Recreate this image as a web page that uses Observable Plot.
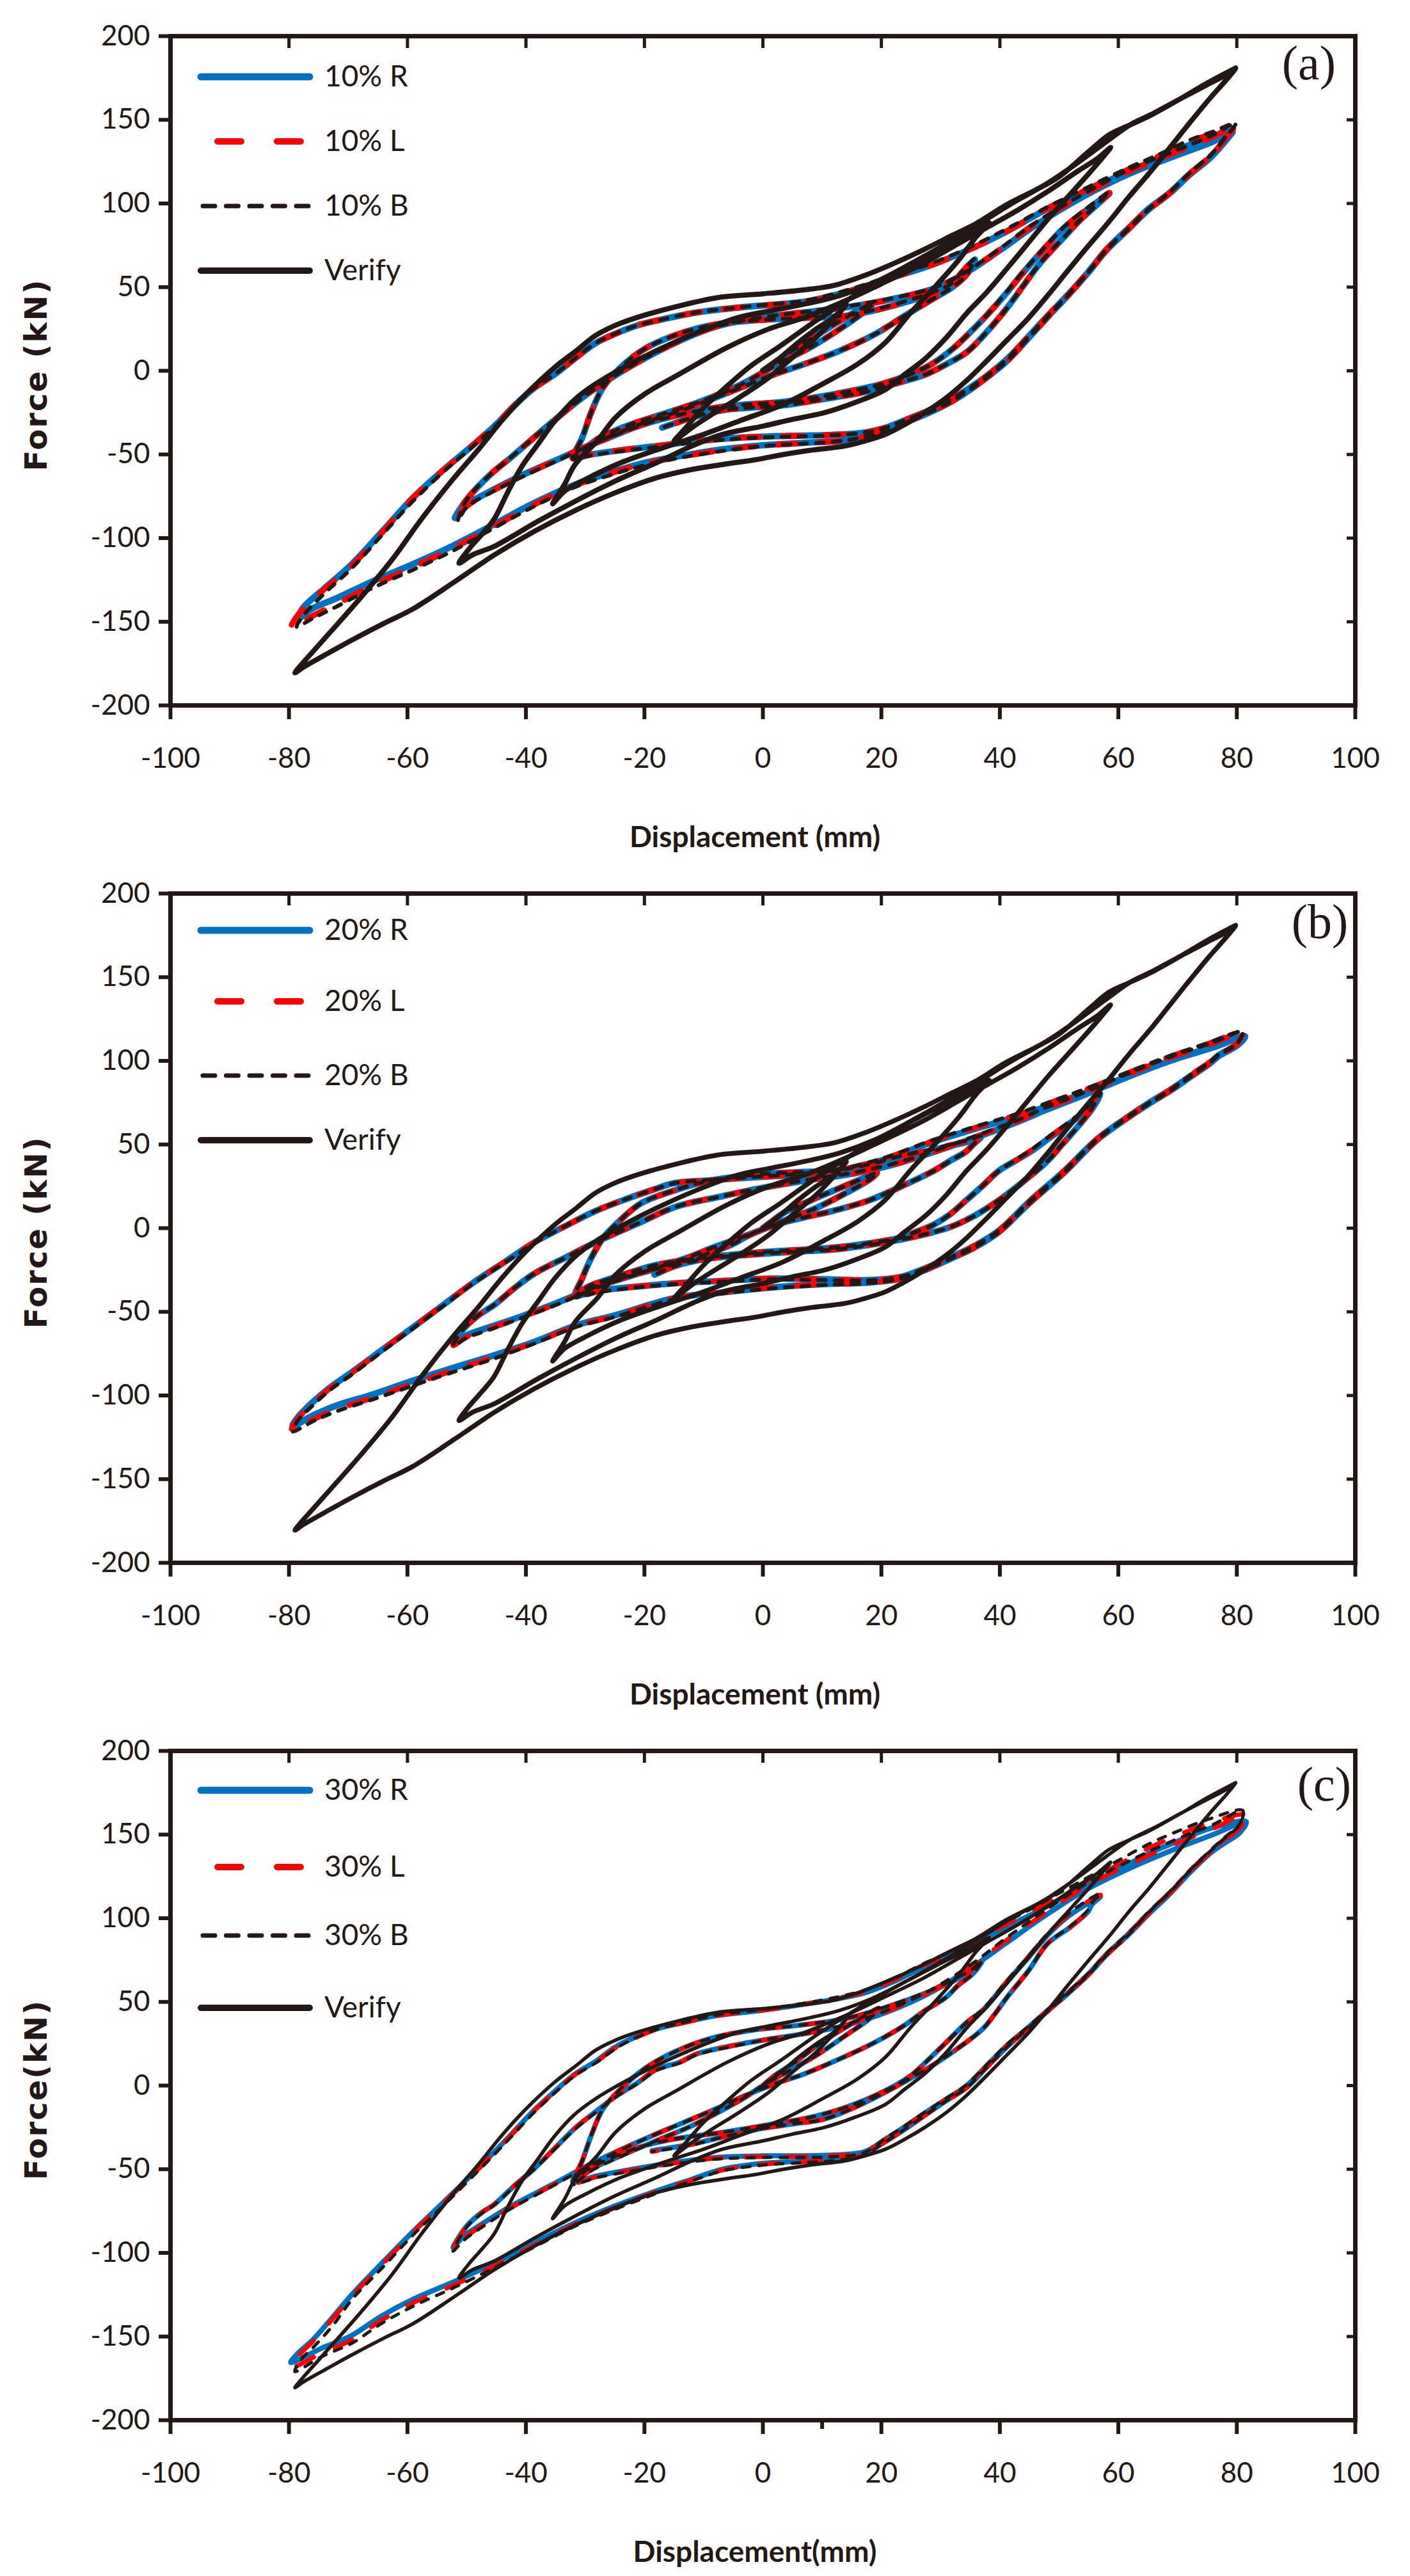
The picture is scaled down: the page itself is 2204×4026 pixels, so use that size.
<!DOCTYPE html>
<html><head><meta charset="utf-8">
<script src="https://cdn.jsdelivr.net/npm/d3@7"></script>
<script src="https://cdn.jsdelivr.net/npm/@observablehq/plot@0.6"></script>
<style>
html,body{margin:0;padding:0;background:#fff;}
#root{width:2204px;}
.panel{position:relative;width:2204px;height:1340px;}
.panel > svg{position:absolute;left:0;top:0;}
</style>
</head><body><div id="root"></div>
<script>
const xTicks = [-100,-80,-60,-40,-20,0,20,40,60,80,100];
const yTicks = [-200,-150,-100,-50,0,50,100,150,200];
const minorTicksC = [10];
const panelTags = ["(a)","(b)","(c)"];
const legendA = ["10% R","10% L","10% B","Verify"];
const legendB = ["20% R","20% L","20% B","Verify"];
const legendC = ["30% R","30% L","30% B","Verify"];
const yTitles = ["Force (kN)","Force (kN)","Force(kN)"];
const xTitles = ["Displacement (mm)","Displacement (mm)","Displacement(mm)"];

// Verify curve (same reference test in all three panels)
const verify = [
[0,0],[3,8],[6,17],[9,25],[12,32],[14.1,39.7],
[12,31],[9,20],[5,8],[1,-4],[-4,-16],[-9,-27],[-12,-34],[-15,-42],
[-13,-34],[-10,-22],[-6,-9],[-2,3],[3,15],[9,30],[16,46],[23,60],[30,73],[35,82],[38.2,88.5],
[36,80],[33,66],[29,50],[25,35],[20.7,17],[16,4],[10,-8],[3.5,-20],[-4,-30],[-10,-38],[-16,-45],[-24,-55],[-30,-65],[-33.5,-72],[-35.5,-79.5],
[-33.5,-68],[-31.7,-56],[-28,-42],[-24.9,-28],[-20,-14],[-14.6,-3],[-6,14],[1,25],[7.2,32],[14,42],[20,52],[27,64],[33,76],[38,86],[43,96],[48,107],[53,119],[56.5,127],[58.7,133.5],
[57,126],[54.9,117.4],[51.5,104],[48.1,90.6],[44.7,76],[41.2,61.1],[37.8,47],[34.4,34.4],[31,20],[27.5,7.6],[24,-2],[20.7,-11.2],[15.5,-19],[10.4,-25],[5,-29],[0.1,-33],[-6.8,-38],[-12,-45],[-18,-55],[-25,-66],[-31.7,-78],[-38,-90],[-45.4,-105],[-49,-110],[-51.3,-115],
[-49.5,-106],[-48,-100],[-45.4,-88.8],[-43,-72],[-40.6,-56.7],[-38,-44],[-35.1,-29.9],[-31.7,-17],[-28.3,-8],[-23,3],[-18,12],[-11,23],[-4.3,31.7],[1.5,36],[7.2,40],[13,45],[19,53],[25,64],[31,76],[37,89],[42,100],[48,112],[53,124],[58,137],[62,147],[66,154],[70.7,163],[75,171],[78,176.5],[79.8,181],
[78.5,175],[75.5,163],[72,148],[68.7,133.4],[65.2,118],[61.8,104],[58.4,89],[54.9,74.5],[51.5,60],[48.1,45.1],[44.7,31],[41.2,18.3],[37.8,6],[34.4,-5.8],[31,-16],[27.5,-24.6],[24,-32],[20.7,-38],[17.2,-42],[13.8,-45],[8,-47.5],[3.5,-50],[-1,-53],[-6.8,-56],[-12,-59],[-18,-64],[-25,-73],[-31.7,-83.5],[-38.6,-96],[-45.4,-110.2],[-52,-126],[-59.1,-142.4],[-64,-151],[-69.4,-161],[-74,-170],[-77.5,-177],[-79,-180.5],
[-78,-176],[-76,-168],[-72.9,-155.7],[-68,-136],[-62.6,-112.9],[-57.5,-88],[-52.3,-64.7],[-48,-47],[-44.1,-29.9],[-40,-14],[-35.1,2.2],[-31.5,12],[-28.3,21],[-25,27],[-21.4,31.7],[-15,38],[-7.7,43.7],[0,46],[7.2,48.5],[12,51],[17.2,57],[22,64],[27.5,73],[32,81],[36,88],[41,99],[46,108],[50,116],[55,131],[58.4,141],[62,147],[65.2,152.2],[70.7,163],[75,172],[79.8,181]
];

// ---------- Panel (a) 10% ----------
const aR = [
[0,0],[2,5],[4.5,11],[9,21],[14,32],[18.6,40.5],
[17,35],[13,25],[8,14],[3,5],[0,-1],[-3,-7],[-6,-12],[-11,-19],[-17,-26],[-23,-33],[-28,-41],[-32.1,-52.2],
[-30.5,-40],[-29,-25],[-27,-10],[-24,2],[-20,13],[-15,21],[-9,27],[-2,30],[6,31.5],[14.3,33],[21,38],[28.7,46.4],[32,52],[33.5,58.3],[35.8,66.5],
[34.5,58],[32,50],[28.7,43],[24,33],[19,22],[13,12],[7,4],[2,-2],[-3,-9],[-8,-16],[-14,-24],[-20,-31],[-27,-41],[-34,-52],[-41,-63],[-46,-72],[-50,-80],[-52,-88],
[-50,-77],[-46,-62],[-42.6,-52],[-39,-41],[-35.7,-31],[-28.9,-12],[-18.6,10],[-8.3,26],[0,32],[7.2,35],[15,38.5],[22,43],[28.7,49],[34,58],[40,72],[46,87],[54,104],[62,118],[70,129],[76,137],[79.3,143],
[78,137],[75.5,127.2],[72,117],[68.7,106.1],[65,96],[61.8,85],[58,72],[54.9,58.6],[51.5,45],[48.1,32.2],[44.7,19],[41.2,5.8],[37.8,-4],[34.4,-12.7],[31,-20],[27.5,-25.9],[24,-31],[20.7,-36.4],[17,-39.5],[13.8,-41.7],[7,-43],[0,-44.5],[-7,-47],[-14,-51],[-20,-55],[-25,-60],[-31.7,-68],[-38.6,-79],[-45.4,-91.8],[-52,-104],[-59.1,-115.6],[-66,-126],[-72,-136],[-76,-142],[-78.4,-148],
[-77.7,-142],[-74,-130],[-69.4,-115.6],[-64,-95],[-59.1,-76],[-53.5,-58],[-48.9,-44.3],[-45,-32],[-42,-21],[-38.5,-10],[-35.1,-2],[-31.5,8],[-28.3,16.4],[-25,22],[-21.4,26.9],[-16,31.5],[-11.1,34.9],[-5,37.5],[-0.85,38.8],[7.2,41.4],[14,47],[20.7,54.6],[27.5,62],[34.4,71.8],[41,83],[48.1,96.9],[55,108],[61.8,119.3],[67,127],[72.1,135.1],[76,139.5],[79.3,143],
[78,137.5],[75.5,127.5],[72,117.5],[68.7,106.5],[65,96.5],[61.8,85.5],[58,72.5],[54.9,59],[51.5,45.5],[48.1,33],[44.7,20],[41.2,7],[37.8,-3],[34.4,-11.5],[31,-18.5],[27.5,-24.5],[24,-29.5],[20.7,-34],[17,-37],[10,-38.5],[3,-39],[-4,-40],[-11,-42],[-18,-45],[-24,-47.5],[-29,-50],[-32.1,-52.2],
[-30,-46],[-26,-40],[-21,-33],[-15,-27],[-6.8,-21.5],[3.5,-18.5],[12,-14],[20,-8],[25,-2],[28.5,4],[32,13],[35,23],[38,34],[41,46],[44,59],[47.5,73],[51,86],[55,97],[58.5,106],
[56,98],[53.5,90],[51.5,82.4],[49,73],[46.7,63.9],[44,51],[41.2,37.5],[38,24],[34.4,11.1],[31,4],[27.5,-2.1],[22,-8],[17.2,-12.7],[10,-17],[3.5,-20.6],[-2,-22],[-6.8,-23.5],[-12,-28],[-17,-34]
];
const aL = [
[0,0],[2,5],[4.5,11],[9,21],[14,32],[18.6,40.5],
[17,35],[13,25],[8,14],[3,5],[0,-1],[-3,-7],[-6,-12],[-11,-19],[-17,-26],[-23,-33],[-28,-41],[-32.1,-52.5],
[-30.5,-40],[-29,-25],[-27,-10],[-24,2],[-20,13],[-15,21],[-9,27],[-2,30],[6,31.5],[14.3,33],[21,38],[28.7,46.4],[32,52],[33.5,58.5],[35.8,67],
[34.5,58],[32,50],[28.7,43],[24,33],[19,22],[13,12],[7,4],[2,-2],[-3,-9],[-8,-16],[-14,-24],[-20,-31],[-27,-41],[-34,-52],[-41,-63.5],[-46,-72.5],[-50,-81],[-52,-88.5],
[-50,-77],[-46,-62],[-42.6,-52],[-39,-41],[-35.7,-31],[-28.9,-12],[-18.6,10],[-8.3,26],[0,32],[7.2,35],[15,38.5],[22,43],[28.7,49],[34,58],[40,72.5],[46,88],[54,105],[62,119.5],[70,131],[76,140],[79.5,146],
[78,138.5],[75.5,128],[72,117.5],[68.7,106.1],[65,96],[61.8,85],[58,72],[54.9,58.6],[51.5,45],[48.1,32.2],[44.7,19],[41.2,5.8],[37.8,-4],[34.4,-12.7],[31,-20],[27.5,-25.9],[24,-31],[20.7,-36.4],[17,-39.5],[13.8,-41.7],[7,-43.2],[0,-44.8],[-7,-47.5],[-14,-51.5],[-20,-55.5],[-25,-60.5],[-31.7,-68.5],[-38.6,-80],[-45.4,-93],[-52,-105.5],[-59.1,-117.5],[-66,-128.5],[-72,-139.5],[-76,-146.5],[-79.7,-154],
[-78.5,-146],[-74.5,-132],[-69.4,-116.5],[-64,-95.5],[-59.1,-76],[-53.5,-58],[-48.9,-44.3],[-45,-32],[-42,-21],[-38.5,-10],[-35.1,-2],[-31.5,8],[-28.3,16.4],[-25,22],[-21.4,26.9],[-16,31.5],[-11.1,34.9],[-5,37.5],[-0.85,38.8],[7.2,41.4],[14,47],[20.7,54.6],[27.5,62],[34.4,71.8],[41,83],[48.1,97.2],[55,108.8],[61.8,120.5],[67,128.5],[72.1,137],[76,141.8],[79.5,146],
[78,138.8],[75.5,128.2],[72,117.8],[68.7,106.5],[65,96.5],[61.8,85.5],[58,72.5],[54.9,59],[51.5,45.5],[48.1,33],[44.7,20],[41.2,7],[37.8,-3],[34.4,-11.5],[31,-18.5],[27.5,-24.5],[24,-29.5],[20.7,-34],[17,-37],[10,-38.5],[3,-39],[-4,-40],[-11,-42],[-18,-45],[-24,-47.5],[-29,-50],[-32.1,-52.5],
[-30,-46],[-26,-40],[-21,-33],[-15,-27],[-6.8,-21.5],[3.5,-18.5],[12,-14],[20,-8],[25,-2],[28.5,4],[32,13],[35,23],[38,34],[41,46],[44,59],[47.5,73],[51,86],[55,97.5],[58.5,106.5],
[56,98],[53.5,90],[51.5,82.4],[49,73],[46.7,63.9],[44,51],[41.2,37.5],[38,24],[34.4,11.1],[31,4],[27.5,-2.1],[22,-8],[17.2,-12.7],[10,-17],[3.5,-20.6],[-2,-22],[-6.8,-23.5],[-12,-28],[-17,-34.5]
];
const aB = [
[0,0],[2,5],[4.5,11],[9,21],[14,32],[18.6,40.5],
[17,35],[13,25],[8,14],[3,5],[0,-1],[-3,-7],[-6,-12],[-11,-19],[-17,-26],[-23,-33],[-28,-41],[-32.1,-52.5],
[-30.5,-40],[-29,-25],[-27,-10],[-24,2],[-20,13],[-15,21],[-9,27],[-2,30],[6,31.5],[14.3,33.2],[21,38.5],[28.7,47],[32,52.5],[33.5,58.8],[35.8,67],
[34.5,58],[32,50],[28.7,43],[24,33],[19,22],[13,12],[7,4],[2,-2],[-3,-9],[-8,-16],[-14,-24],[-20,-31],[-27,-41],[-34,-52.5],[-41,-64],[-46,-73],[-50,-81.5],[-51.5,-90],
[-50,-77],[-46,-62],[-42.6,-52],[-39,-41],[-35.7,-31],[-28.9,-12],[-18.6,10],[-8.3,26],[0,32],[7.2,35.2],[15,39],[22,43.5],[28.7,49.5],[34,58.5],[40,73],[46,88.5],[54,105.5],[62,120.5],[70,132],[76,141],[79.8,148],
[78,139],[75.5,128.5],[72,118],[68.7,106.5],[65,96],[61.8,85],[58,72],[54.9,58.6],[51.5,45],[48.1,32.2],[44.7,19],[41.2,5.8],[37.8,-4],[34.4,-12.7],[31,-20],[27.5,-25.9],[24,-31],[20.7,-36.4],[17,-39.5],[13.8,-41.7],[7,-43.5],[0,-45],[-7,-48],[-14,-52],[-20,-56.5],[-25,-61.5],[-31.7,-69.5],[-38.6,-81],[-45.4,-94],[-52,-107],[-59.1,-119],[-66,-130],[-72,-141],[-76,-148],[-78.7,-153],
[-77.5,-146],[-74,-133],[-69.4,-118],[-64,-97],[-59.1,-78],[-53.5,-59],[-48.9,-45],[-45,-32.5],[-42,-21.5],[-38.5,-10],[-35.1,-2],[-31.5,8],[-28.3,16.4],[-25,22],[-21.4,26.9],[-16,31.5],[-11.1,34.9],[-5,37.5],[-0.85,39],[7.2,42],[14,48],[20.7,55.5],[27.5,63],[34.4,73],[41,84.5],[48.1,98],[55,110],[61.8,121.5],[67,129.5],[72.1,138],[76,143],[79.8,148],
[78,139.5],[75.5,128.8],[72,118.2],[68.7,106.8],[65,96.5],[61.8,85.5],[58,72.5],[54.9,59],[51.5,45.5],[48.1,33],[44.7,20],[41.2,7],[37.8,-3],[34.4,-11.5],[31,-18.5],[27.5,-24.5],[24,-29.5],[20.7,-34],[17,-37],[10,-38.8],[3,-39.5],[-4,-40.5],[-11,-42.5],[-18,-45.5],[-24,-48],[-29,-50.5],[-32.1,-52.5],
[-30,-46],[-26,-40],[-21,-33],[-15,-27],[-6.8,-21.5],[3.5,-18.5],[12,-14],[20,-8],[25,-2],[28.5,4],[32,13],[35,23],[38,34],[41,46.5],[44,59.5],[47.5,73.5],[51,86.5],[55,98],[58.5,107],
[56,98],[53.5,90],[51.5,82.4],[49,73],[46.7,63.9],[44,51],[41.2,37.5],[38,24],[34.4,11.1],[31,4],[27.5,-2.1],[22,-8],[17.2,-12.7],[10,-17],[3.5,-20.6],[-2,-22],[-6.8,-23.5],[-12,-28],[-17,-34]
];

// ---------- Panel (b) 20% ----------
const bR = [
[0,0],[1.5,4],[3.6,9.3],[8,16.5],[13,24],[17.9,31.2],[19.3,33],
[18,29],[14,21],[9,12],[4,5],[0.5,0],[-2.5,-4.5],[-5.2,-9.7],[-10,-16],[-15,-21.4],[-22,-28],[-28,-34],[-31.7,-40.6],
[-30.5,-30],[-29,-18],[-27,-6],[-24,5],[-20.5,15],[-15,22.5],[-9.6,28],[-4,31],[1.4,32.7],[6,33.5],[12.4,34.5],[18,38],[23.4,43],[28,46],[32,49.5],[35,52],[36.8,54.4],
[35.5,50],[34.3,45.8],[31.5,40],[28.8,34.2],[24,26],[17.9,16.6],[12,10.5],[6.9,6.4],[3,3],[-1,-2],[-4,-6],[-8,-11],[-13,-18],[-20,-26],[-28,-35],[-35,-45],[-41,-53],[-46,-59],[-50,-64],[-52.3,-68.7],
[-50.5,-60],[-48,-52],[-45.4,-46],[-42,-36],[-38.6,-27.2],[-33,-17],[-28.3,-8.5],[-21,3],[-14.6,12.9],[-7,19],[-0.85,23.6],[7.2,28.5],[15,32.5],[22,38],[28.8,45.5],[35,53],[42.6,63],[48,71],[54.5,80],[62,91],[70,101.5],[76,108],[81.4,114.7],
[80,109],[77,103],[75.5,98.6],[72,90],[68.7,82],[65,74],[61.8,66.5],[56.5,53],[50.8,33],[45,15],[39.8,-2.4],[35.5,-12],[31.6,-18.4],[27,-25.5],[23.4,-30.1],[17.9,-32.5],[10,-33.5],[1.4,-35.5],[-7,-38.5],[-15,-41.8],[-24.9,-52],[-31.5,-58],[-38.6,-68],[-45.4,-76],[-52.3,-83.5],[-59,-91],[-66,-99.5],[-72,-106],[-76,-112],[-79.4,-118.3],
[-78.5,-113],[-76,-104],[-73,-95],[-69.4,-86.1],[-64,-72],[-59.1,-59.4],[-54,-46],[-48.9,-32.6],[-43.5,-20],[-38.6,-8.5],[-33.5,1],[-28.3,10.2],[-23,17.5],[-18,23.6],[-15,26.9],[-9,28.6],[-4.1,29.8],[1.5,31],[7.2,32.2],[12.4,34.2],[20,40.5],[28.8,51.7],[35,58.5],[42.6,66.3],[48.5,73.5],[54.5,80.9],[61.8,91],[68.7,100],[75,107.5],[81.4,114.7],
[80,109.5],[77,103.5],[75.5,99],[72,90.5],[68.7,82.5],[65,74.5],[61.8,67],[56.5,53.5],[50.8,34],[45,16],[39.8,-1.5],[35.5,-11],[31.6,-17.5],[27,-24.5],[23.4,-29],[17.9,-31],[10,-30.5],[1.4,-30.1],[-7,-31.5],[-15,-33],[-23,-35.5],[-28,-37.5],[-31.7,-40.6],
[-29.5,-35],[-26,-30.5],[-22,-26],[-18,-22],[-9.6,-17.5],[-0.8,-14.5],[6,-13],[12.4,-11.5],[18,-9],[23.4,-5.5],[26,-2],[28.8,2],[31.5,8],[34.3,16.6],[37,25],[39.8,34.2],[42.5,40],[45.3,46],[48,53],[51.5,62],[54.5,70],[57,80],
[55.5,71],[53,60],[50.5,50],[48,40],[44,28],[39.8,16.6],[35.5,7],[31.6,0.6],[27.5,-3.5],[23.4,-6.7],[18,-10],[12.4,-12.6],[6,-14],[-0.8,-15.5],[-9.6,-18.4],[-15,-22.8],[-18.3,-27.8]
];
const bL = [
[0,0],[1.5,4],[3.6,9.3],[8,16.5],[13,24],[17.9,31.2],[19.3,33.3],
[18,29],[14,21],[9,12],[4,5],[0.5,0],[-2.5,-4.5],[-5.2,-9.7],[-10,-16],[-15,-21.4],[-22,-28],[-28,-34.5],[-31.7,-41.5],
[-30.5,-30],[-29,-18],[-27,-6],[-24,5],[-20.5,15],[-15,22.5],[-9.6,28],[-4,31],[1.4,32.7],[6,33.5],[12.4,34.5],[18,38],[23.4,43],[28,46.5],[32,50],[35,52.5],[36.8,55],
[35.5,50],[34.3,45.8],[31.5,40],[28.8,34.2],[24,26],[17.9,16.6],[12,10.5],[6.9,6.4],[3,3],[-1,-2],[-4,-6],[-8,-11],[-13,-18],[-20,-26],[-28,-35],[-35,-45.5],[-41,-53.5],[-46,-60],[-50,-65],[-52.3,-70],
[-50.5,-60],[-48,-52],[-45.4,-46],[-42,-36],[-38.6,-27.2],[-33,-17],[-28.3,-8.5],[-21,3],[-14.6,12.9],[-7,19],[-0.85,23.6],[7.2,28.5],[15,32.5],[22,38],[28.8,45.5],[35,53.5],[42.6,63.5],[48,72],[54.5,81],[62,92.5],[70,103.5],[76,110.5],[81,117.3],
[80,110],[77,103.5],[75.5,99],[72,90],[68.7,82],[65,74],[61.8,66.5],[56.5,53],[50.8,33],[45,15],[39.8,-2.4],[35.5,-12],[31.6,-18.4],[27,-25.5],[23.4,-30.1],[17.9,-32.5],[10,-33.5],[1.4,-35.5],[-7,-38.5],[-15,-42],[-24.9,-52.5],[-31.5,-58.5],[-38.6,-68.5],[-45.4,-77],[-52.3,-85],[-59,-93],[-66,-101.5],[-72,-108.5],[-76,-114.5],[-79.6,-121],
[-78.5,-114],[-76,-105],[-73,-95.5],[-69.4,-86.5],[-64,-72],[-59.1,-59.4],[-54,-46],[-48.9,-32.6],[-43.5,-20],[-38.6,-8.5],[-33.5,1],[-28.3,10.2],[-23,17.5],[-18,23.6],[-15,26.9],[-9,28.6],[-4.1,29.8],[1.5,31],[7.2,32.2],[12.4,34.4],[20,41],[28.8,52.2],[35,59.2],[42.6,67.3],[48.5,75],[54.5,82.8],[61.8,93],[68.7,102.5],[75,110],[81,117.3],
[80,110.5],[77,104],[75.5,99.5],[72,91],[68.7,82.5],[65,74.5],[61.8,67],[56.5,53.5],[50.8,34],[45,16],[39.8,-1.5],[35.5,-11],[31.6,-17.5],[27,-24.5],[23.4,-29],[17.9,-31],[10,-30.5],[1.4,-30.1],[-7,-31.5],[-15,-33],[-23,-35.5],[-28,-38],[-31.7,-41.5],
[-29.5,-35],[-26,-30.5],[-22,-26],[-18,-22],[-9.6,-17.5],[-0.8,-14.5],[6,-13],[12.4,-11.5],[18,-9],[23.4,-5.5],[26,-2],[28.8,2],[31.5,8],[34.3,16.6],[37,25],[39.8,34.2],[42.5,40],[45.3,46.5],[48,53.5],[51.5,62.5],[54.5,71],[57,81],
[55.5,71.5],[53,60],[50.5,50],[48,40],[44,28],[39.8,16.6],[35.5,7],[31.6,0.6],[27.5,-3.5],[23.4,-6.7],[18,-10],[12.4,-12.6],[6,-14],[-0.8,-15.5],[-9.6,-18.4],[-15,-22.8],[-18.3,-28.2]
];
const bB = [
[0,0],[1.5,4],[3.6,9.3],[8,16.5],[13,24],[17.9,31.2],[19.3,33.2],
[18,29],[14,21],[9,12],[4,5],[0.5,0],[-2.5,-4.5],[-5.2,-9.7],[-10,-16],[-15,-21.4],[-22,-28],[-28,-34.5],[-31.7,-41.2],
[-30.5,-30],[-29,-18],[-27,-6],[-24,5],[-20.5,15],[-15,22.5],[-9.6,28],[-4,31],[1.4,32.7],[6,33.5],[12.4,34.6],[18,38.2],[23.4,43.3],[28,46.8],[32,50.3],[35,53],[36.8,55.2],
[35.5,50],[34.3,45.8],[31.5,40],[28.8,34.2],[24,26],[17.9,16.6],[12,10.5],[6.9,6.4],[3,3],[-1,-2],[-4,-6],[-8,-11],[-13,-18],[-20,-26],[-28,-35.5],[-35,-46],[-41,-54],[-46,-60.5],[-50,-65.5],[-52.3,-70.5],
[-50.5,-60],[-48,-52],[-45.4,-46],[-42,-36],[-38.6,-27.2],[-33,-17],[-28.3,-8.5],[-21,3],[-14.6,12.9],[-7,19],[-0.85,23.6],[7.2,28.7],[15,33],[22,38.5],[28.8,46],[35,54],[42.6,64],[48,72.5],[54.5,81.5],[62,93],[70,104],[76,111],[81,117.5],
[80,110],[77,103.5],[75.5,99],[72,90],[68.7,82],[65,74],[61.8,66.5],[56.5,53],[50.8,33],[45,15],[39.8,-2.4],[35.5,-12],[31.6,-18.4],[27,-25.5],[23.4,-30.1],[17.9,-32.8],[10,-34],[1.4,-36],[-7,-39],[-15,-42.5],[-24.9,-53],[-31.5,-59],[-38.6,-69],[-45.4,-78],[-52.3,-86],[-59,-94],[-66,-102.5],[-72,-109.5],[-76,-115.5],[-79.4,-121.5],
[-78.5,-115],[-76,-106],[-73,-96.5],[-69.4,-87.5],[-64,-73],[-59.1,-60],[-54,-46.5],[-48.9,-33],[-43.5,-20.5],[-38.6,-9],[-33.5,1],[-28.3,10.2],[-23,17.5],[-18,23.6],[-15,26.9],[-9,28.8],[-4.1,30],[1.5,31.3],[7.2,32.6],[12.4,34.8],[20,41.5],[28.8,52.8],[35,59.8],[42.6,68],[48.5,75.5],[54.5,83.3],[61.8,93.5],[68.7,103],[75,110.5],[81,117.5],
[80,110.5],[77,104],[75.5,99.5],[72,91],[68.7,82.5],[65,74.5],[61.8,67],[56.5,53.5],[50.8,34],[45,16],[39.8,-1.5],[35.5,-11],[31.6,-17.5],[27,-24.5],[23.4,-29],[17.9,-31.2],[10,-31],[1.4,-30.6],[-7,-32],[-15,-33.5],[-23,-36],[-28,-38.5],[-31.7,-41.2],
[-29.5,-35],[-26,-30.5],[-22,-26],[-18,-22],[-9.6,-17.5],[-0.8,-14.5],[6,-13],[12.4,-11.5],[18,-9],[23.4,-5.5],[26,-2],[28.8,2],[31.5,8],[34.3,16.6],[37,25],[39.8,34.2],[42.5,40.3],[45.3,46.8],[48,54],[51.5,63],[54.5,71.5],[57,81],
[55.5,71.5],[53,60],[50.5,50],[48,40],[44,28],[39.8,16.6],[35.5,7],[31.6,0.6],[27.5,-3.5],[23.4,-6.7],[18,-10],[12.4,-12.6],[6,-14],[-0.8,-15.5],[-9.6,-18.4],[-15,-22.8],[-18.3,-28]
];

// ---------- Panel (c) 30% ----------
const cR = [
[0,0],[2,6],[5,13],[10,26],[15,37],[19.6,46],
[18,40],[14,30],[9,18],[4,8],[0,0],[-3,-7],[-7,-15],[-12,-24],[-18,-33],[-24,-42],[-29,-50],[-32.1,-57.8],
[-30.5,-45],[-29,-30],[-27,-14],[-24,-2],[-20,10],[-15,20],[-9,28],[-2,33],[6,36],[14,40],[21,47],[28,56],[33,64],[35.5,69],[37,74.2],
[35.5,67],[33,60],[30.9,52.7],[27,44],[24.1,36.5],[19,26],[13,16],[7,7],[2,1],[-3,-6],[-8,-14],[-14,-23],[-20,-32],[-28,-45],[-36,-60],[-43,-73],[-48,-84],[-50.5,-90],[-52.3,-96.8],
[-50,-84],[-47.5,-76],[-45.4,-71.2],[-42,-60],[-38.6,-49.7],[-35,-37],[-31.7,-25.4],[-28,-15],[-24.9,-6.6],[-21,2],[-18,9.6],[-14,14],[-11.1,19],[-4.3,24.4],[1.5,28],[7.2,31.1],[14,36],[21,44],[28,55],[35,70],[41,85],[47,100],[54,116],[62,130],[70,142],[76,150],[81.6,157.7],
[80.5,151],[78,145],[75.5,138.8],[72,127],[68.7,114.6],[65,102],[61.8,90.4],[58,78],[54.9,66.1],[51.5,55],[48.1,44.6],[44.7,34],[41.2,23.1],[37.8,11],[34.4,-1.2],[31,-9],[27.5,-17.4],[24,-26],[20.7,-33.5],[17.2,-40.5],[13,-43.5],[7.2,-45],[0.1,-46.5],[-6.8,-50],[-12,-56],[-18,-63],[-25,-72],[-31.7,-82],[-38.6,-94],[-45.4,-106.2],[-52,-117],[-59.1,-127.8],[-64.5,-138],[-69.4,-149.3],[-74.5,-157],[-79.7,-165.5],
[-78.5,-160],[-76,-152],[-73,-140],[-69.4,-125],[-64,-105],[-59.1,-87.4],[-54,-70],[-48.9,-52.4],[-43.5,-33],[-38.6,-14.7],[-35,-3],[-31.7,6.9],[-28,15],[-24.9,23.1],[-21.5,29],[-18,33.8],[-13,38],[-7.7,41.9],[0,45],[6.9,48.6],[12,51.5],[17.2,55.4],[22,62],[27.5,71.5],[34.4,82.3],[39.5,92],[44.7,101.1],[49.5,110],[54.9,120],[60,129],[65.2,138.8],[70,146],[75.5,153.7],[81.6,157.7],
[80.5,151.5],[78,145.5],[75.5,139.2],[72,127.5],[68.7,115],[65,102.5],[61.8,91],[58,78.5],[54.9,66.5],[51.5,55.5],[48.1,45],[44.7,34.5],[41.2,24],[37.8,12],[34.4,0],[31,-8],[27.5,-16],[24,-24.5],[20.7,-32],[17.2,-39.5],[12,-41.5],[5,-42],[0,-42],[-8,-43],[-15,-46],[-22,-50],[-28,-54],[-32.1,-57.8],
[-30,-51],[-26,-44],[-21,-37],[-15,-32],[-6.8,-28],[0.1,-24],[8,-19],[14,-13],[20.7,-3],[25,6],[27.5,14],[31,26],[34.5,38],[37.1,45],[41.2,62],[44.7,76],[48.1,90],[51.5,101],[54.9,109],[57,113],
[55.5,108],[54.9,104],[52,95],[48.1,85],[44.7,68],[41.2,52.7],[39,42],[37.1,33.8],[32,20],[27.5,9.6],[24,2.5],[20.7,-3.9],[15.5,-13],[10.4,-20],[5,-23],[0.1,-25.5],[-6.8,-30.8],[-12,-35],[-18.7,-38.9]
];
const cL = [
[0,0],[2,6],[5,13],[10,26],[15,37],[19.6,46.3],
[18,40],[14,30],[9,18],[4,8],[0,0],[-3,-7],[-7,-15],[-12,-24],[-18,-33],[-24,-42],[-29,-50.5],[-32.1,-58.5],
[-30.5,-45],[-29,-30],[-27,-14],[-24,-2],[-20,10],[-15,20],[-9,28],[-2,33],[6,36],[14,40],[21,47],[28,56],[33,64.3],[35.5,69.5],[37,74.6],
[35.5,67],[33,60],[30.9,52.7],[27,44],[24.1,36.5],[19,26],[13,16],[7,7],[2,1],[-3,-6],[-8,-14],[-14,-23],[-20,-32],[-28,-45],[-36,-60.5],[-43,-74],[-48,-85],[-50.5,-91.5],[-52.3,-98],
[-50,-84],[-47.5,-76],[-45.4,-71.2],[-42,-60],[-38.6,-49.7],[-35,-37],[-31.7,-25.4],[-28,-15],[-24.9,-6.6],[-21,2],[-18,9.6],[-14,14],[-11.1,19],[-4.3,24.4],[1.5,28],[7.2,31.1],[14,36.3],[21,44.5],[28,55.8],[35,71],[41,86.5],[47,101.5],[54,118],[62,132.5],[70,145],[76,153.5],[81.3,161.7],
[80.5,154],[78,147],[75.5,139.5],[72,127.5],[68.7,115],[65,102.5],[61.8,90.4],[58,78],[54.9,66.1],[51.5,55],[48.1,44.6],[44.7,34],[41.2,23.1],[37.8,11],[34.4,-1.2],[31,-9],[27.5,-17.4],[24,-26],[20.7,-33.5],[17.2,-41],[13,-44],[7.2,-45.5],[0.1,-47],[-6.8,-50.5],[-12,-56.5],[-18,-63.5],[-25,-73],[-31.7,-83],[-38.6,-95.5],[-45.4,-108],[-52,-119],[-59.1,-130],[-64.5,-140.5],[-69.4,-152],[-74.5,-160],[-79.7,-168.7],
[-78.5,-162],[-76,-153],[-73,-141],[-69.4,-126],[-64,-106],[-59.1,-88],[-54,-70.5],[-48.9,-53],[-43.5,-33.5],[-38.6,-15],[-35,-3.5],[-31.7,6.5],[-28,14.5],[-24.9,22.5],[-21.5,28.5],[-18,33.5],[-13,37.8],[-7.7,41.9],[0,45],[6.9,48.6],[12,51.8],[17.2,56],[22,63],[27.5,72.5],[34.4,83.5],[39.5,93.5],[44.7,103],[49.5,112],[54.9,122.5],[60,132],[65.2,142],[70,149.5],[75.5,157],[81.3,161.7],
[80.5,154.5],[78,147.5],[75.5,140],[72,128],[68.7,115.5],[65,103],[61.8,91],[58,78.5],[54.9,66.5],[51.5,55.5],[48.1,45],[44.7,34.5],[41.2,24],[37.8,12],[34.4,0],[31,-8],[27.5,-16],[24,-24.5],[20.7,-32],[17.2,-39.8],[12,-42],[5,-42.5],[0,-42.5],[-8,-43.5],[-15,-46.5],[-22,-50.5],[-28,-54.5],[-32.1,-58.5],
[-30,-51],[-26,-44],[-21,-37],[-15,-32],[-6.8,-28],[0.1,-24],[8,-19],[14,-13],[20.7,-3],[25,6],[27.5,14],[31,26],[34.5,38],[37.1,45],[41.2,62.3],[44.7,76.5],[48.1,90.5],[51.5,101.8],[54.9,110],[57,114],
[55.5,108.5],[54.9,104.5],[52,95],[48.1,85],[44.7,68],[41.2,52.7],[39,42],[37.1,33.8],[32,20],[27.5,9.6],[24,2.5],[20.7,-3.9],[15.5,-13],[10.4,-20],[5,-23],[0.1,-25.5],[-6.8,-30.8],[-12,-35.2],[-18.7,-39.5]
];
const cB = [
[0,0],[2,6],[5,13],[10,26],[15,37],[19.6,46.5],
[18,40],[14,30],[9,18],[4,8],[0,0],[-3,-7],[-7,-15],[-12,-24],[-18,-33],[-24,-42.5],[-29,-51],[-32.1,-59],
[-30.5,-45],[-29,-30],[-27,-14],[-24,-2],[-20,10],[-15,20],[-9,28],[-2,33],[6,36],[14,40.2],[21,47.4],[28,56.5],[33,64.8],[35.5,70],[37,75],
[35.5,67],[33,60],[30.9,52.7],[27,44],[24.1,36.5],[19,26],[13,16],[7,7],[2,1],[-3,-6],[-8,-14],[-14,-23],[-20,-32],[-28,-45.5],[-36,-61],[-43,-74.5],[-48,-86],[-50.5,-92.5],[-52.3,-99],
[-50,-84.5],[-47.5,-76.5],[-45.4,-71.5],[-42,-60.5],[-38.6,-50],[-35,-37.5],[-31.7,-26],[-28,-15.5],[-24.9,-7],[-21,1.5],[-18,9],[-14,13.5],[-11.1,18.5],[-4.3,24],[1.5,28],[7.2,31.1],[14,36.5],[21,45],[28,56.5],[35,72],[41,88],[47,103],[54,119.5],[62,134.5],[70,147.5],[76,156],[81,164.4],
[80.5,156],[78,148],[75.5,140],[72,128],[68.7,115.5],[65,103],[61.8,90.4],[58,78],[54.9,66.1],[51.5,55],[48.1,44.6],[44.7,34],[41.2,23.1],[37.8,11],[34.4,-1.2],[31,-9],[27.5,-17.4],[24,-26],[20.7,-33.5],[17.2,-41.5],[13,-44.5],[7.2,-46],[0.1,-47.5],[-6.8,-51],[-12,-57],[-18,-64.5],[-25,-74],[-31.7,-84],[-38.6,-96.5],[-45.4,-109],[-52,-120.5],[-59.1,-132],[-64.5,-142.5],[-69.4,-154],[-74.5,-162],[-79,-170.9],
[-78,-164],[-75.5,-155],[-72.5,-143],[-69.4,-128],[-64,-108],[-59.1,-89.5],[-54,-72],[-48.9,-54],[-43.5,-34.5],[-38.6,-16],[-35,-4],[-31.7,6],[-28,14],[-24.9,22],[-21.5,28.5],[-18,33.5],[-13,38],[-7.7,42.2],[0,45.5],[6.9,49.2],[12,52.5],[17.2,57],[22,64],[27.5,73.5],[34.4,84.5],[39.5,95],[44.7,104.5],[49.5,114],[54.9,124.5],[60,134.5],[65.2,144.5],[70,152],[75.5,159.5],[81,164.4],
[80.5,156.5],[78,148.5],[75.5,140.5],[72,128.5],[68.7,116],[65,103.5],[61.8,91.5],[58,79],[54.9,67],[51.5,56],[48.1,45.5],[44.7,35],[41.2,24.5],[37.8,12.5],[34.4,0.5],[31,-7.5],[27.5,-15.5],[24,-24],[20.7,-31.5],[17.2,-40],[12,-42.5],[5,-43],[0,-43],[-8,-44],[-15,-47],[-22,-51],[-28,-55],[-32.1,-59],
[-30,-51],[-26,-44],[-21,-37],[-15,-32],[-6.8,-28],[0.1,-24],[8,-19],[14,-13],[20.7,-3],[25,6],[27.5,14],[31,26],[34.5,38],[37.1,45.5],[41.2,62.8],[44.7,77],[48.1,91],[51.5,102.5],[54.9,111],[57,115],
[55.5,109],[54.9,105],[52,95.5],[48.1,85],[44.7,68],[41.2,52.7],[39,42],[37.1,33.8],[32,20],[27.5,9.6],[24,2.5],[20.7,-3.9],[15.5,-13],[10.4,-20],[5,-23],[0.1,-25.5],[-6.8,-30.8],[-12,-35.5],[-18.7,-39.5]
];

const panels = [
  {tag: panelTags[0], names: legendA, R: aR, L: aL, B: aB, yTitle: yTitles[0], xTitle: xTitles[0], minor: null,
   legY: [120, 221, 322, 423], tagX: 2046, tagY: 124, w: {R: 10, L: 9, B: 6, V: 8}},
  {tag: panelTags[1], names: legendB, R: bR, L: bL, B: bB, yTitle: yTitles[1], xTitle: xTitles[1], minor: null,
   legY: [114, 225, 341, 442], tagX: 2063, tagY: 126, w: {R: 10, L: 8.5, B: 6, V: 7.5}},
  {tag: panelTags[2], names: legendC, R: cR, L: cL, B: cB, yTitle: yTitles[2], xTitle: xTitles[2], minor: minorTicksC,
   legY: [118, 238, 345, 458], tagX: 2070, tagY: 134, w: {R: 8, L: 7, B: 5, V: 5.5}}
];

const INK = "#231815", BLUE = "#0070C0", RED = "#FF0000";
const toRows = (arr) => arr.map(([x, y]) => ({x, y}));
const W = 2204, H = 1340, MT = 56, MB = 238, ML = 266, MR = 86;

const root = document.getElementById("root");
const NS = "http://www.w3.org/2000/svg";

panels.forEach((p) => {
  const div = document.createElement("div");
  div.className = "panel";
  root.appendChild(div);

  const marks = [
    Plot.line(toRows(p.R), {x: "x", y: "y", stroke: BLUE, strokeWidth: p.w.R, curve: "catmull-rom", strokeLinejoin: "round", strokeLinecap: "round"}),
    Plot.line(toRows(p.L), {x: "x", y: "y", stroke: RED, strokeWidth: p.w.L, curve: "catmull-rom", strokeDasharray: "30,36", strokeLinecap: "round", strokeLinejoin: "round"}),
    Plot.line(toRows(p.B), {x: "x", y: "y", stroke: INK, strokeWidth: p.w.B, curve: "catmull-rom", strokeDasharray: "12,14", strokeLinecap: "round", strokeLinejoin: "round"}),
    Plot.line(toRows(verify), {x: "x", y: "y", stroke: INK, strokeWidth: p.w.V, curve: "catmull-rom", strokeLinejoin: "round", strokeLinecap: "round"}),
    Plot.frame({stroke: INK, strokeWidth: 7}),
    Plot.axisY({ticks: yTicks, tickSize: 18, tickPadding: 14, strokeWidth: 6, label: null, tickFormat: (d) => String(d)}),
    Plot.axisX({ticks: xTicks, tickSize: 22, tickPadding: 44, strokeWidth: 6, label: null, tickFormat: (d) => String(d)}),
    Plot.axisX({anchor: "top", ticks: xTicks.slice(1, -1), tickSize: 18, dy: 18, strokeWidth: 5, label: null, tickFormat: () => ""}),
    Plot.axisY({anchor: "right", ticks: yTicks.slice(1, -1), tickSize: 14, dx: -14, strokeWidth: 5, label: null, tickFormat: () => ""})
  ];
  if (p.minor) marks.push(Plot.axisX({ticks: p.minor, tickSize: 14, strokeWidth: 6, label: null, tickFormat: () => ""}));

  const chart = Plot.plot({
    width: W, height: H,
    marginTop: MT, marginBottom: MB, marginLeft: ML, marginRight: MR,
    style: {fontFamily: "Lato, 'Noto Sans', sans-serif", fontSize: "44px", color: INK, background: "transparent", overflow: "visible"},
    x: {domain: [-100, 100]},
    y: {domain: [-200, 200]},
    marks
  });
  div.appendChild(chart);

  // overlay: legend, titles, panel tag
  const ov = document.createElementNS(NS, "svg");
  ov.setAttribute("width", W); ov.setAttribute("height", H);
  ov.style.pointerEvents = "none";
  div.appendChild(ov);
  const mk = (tag, attrs, text) => {
    const el = document.createElementNS(NS, tag);
    for (const k in attrs) el.setAttribute(k, attrs[k]);
    if (text != null) el.textContent = text;
    ov.appendChild(el);
    return el;
  };
  const [y0, y1, y2, y3] = p.legY;
  mk("line", {x1: 314, x2: 484, y1: y0, y2: y0, stroke: BLUE, "stroke-width": 11, "stroke-linecap": "round"});
  mk("line", {x1: 340, x2: 470, y1: y1, y2: y1, stroke: RED, "stroke-width": 10, "stroke-linecap": "round", "stroke-dasharray": "37,56"});
  mk("line", {x1: 317, x2: 484, y1: y2, y2: y2, stroke: INK, "stroke-width": 7, "stroke-linecap": "round", "stroke-dasharray": "19,17.5"});
  mk("line", {x1: 314, x2: 484, y1: y3, y2: y3, stroke: INK, "stroke-width": 10, "stroke-linecap": "round"});
  p.names.forEach((n, i) => {
    mk("text", {x: 507, y: p.legY[i] + 15, "font-family": "Lato, sans-serif", "font-size": 46, fill: INK}, n);
  });
  mk("text", {x: p.tagX, y: p.tagY, "text-anchor": "middle", "font-family": "'Liberation Serif', 'DejaVu Serif', serif", "font-size": 76, fill: INK}, p.tag);
  mk("text", {x: 0, y: 0, transform: `translate(56,${MT + 530}) rotate(-90)`, "text-anchor": "middle", "dominant-baseline": "central",
    "font-family": "'DejaVu Sans', sans-serif", "font-weight": "bold", "font-size": 48, "letter-spacing": 2, fill: INK}, p.yTitle);
  mk("text", {x: 1180, y: H - MB + 222, "text-anchor": "middle", "font-family": "Lato, sans-serif", "font-weight": "bold", "font-size": 46, fill: INK}, p.xTitle);
});
</script>
</body></html>
